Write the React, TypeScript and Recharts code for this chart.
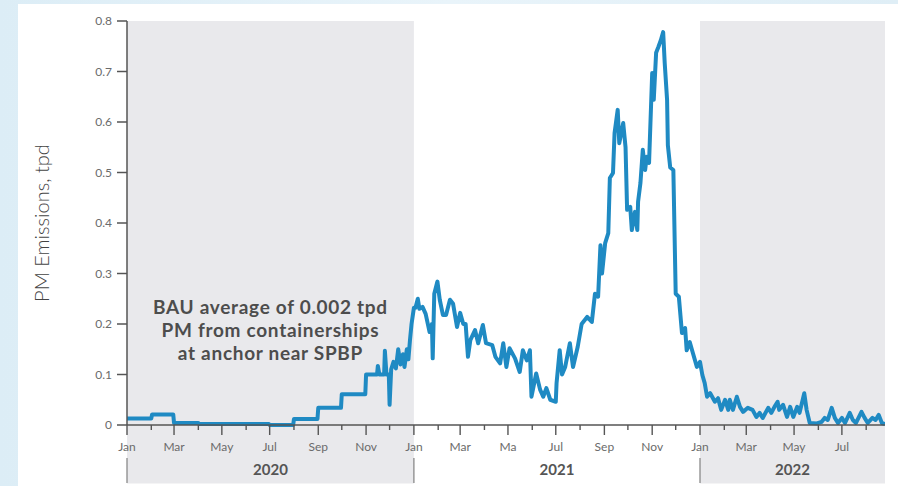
import React from "react";
import { LineChart, Line, XAxis, YAxis, ReferenceArea, ReferenceDot } from "recharts";

// days since 1 Jan 2020, daily PM emissions (tpd)
const days = [
  0, 31, 32, 59, 60, 91, 92, 181, 182, 212, 213, 243, 244, 273, 274, 304, 305, 319, 320, 322, 328, 329, 331, 334,
  335, 337, 340, 343, 346, 349, 352, 354, 357, 359, 361, 363, 366, 368, 371, 373, 377, 381, 386, 389, 390, 392,
  396, 399, 403, 407, 412, 416, 421, 425, 429, 432, 435, 438, 444, 448, 454, 458, 466, 470, 476, 480, 484, 488,
  495, 501, 505, 510, 514, 516, 522, 527, 531, 535, 540, 547, 548, 552, 555, 559, 565, 569, 575, 580, 587, 593,
  597, 601, 604, 606, 610, 614, 616, 620, 622, 626, 628, 633, 636, 638, 642, 644, 648, 651, 652, 655, 658, 661,
  663, 666, 670, 672, 675, 678, 681, 684, 686, 689, 690, 693, 697, 699, 700, 704, 708, 712, 714, 718, 722, 727,
  731, 734, 737, 740, 744, 750, 754, 758, 763, 767, 769, 773, 778, 782, 786, 792, 798, 803, 807, 811, 818, 822,
  826, 830, 832, 837, 842, 846, 850, 855, 858, 864, 867, 871, 880, 886, 890, 894, 899, 903, 907, 912, 916, 922,
  926, 930, 937, 941, 945, 951, 955, 959, 963, 967,
];
const pm = [
  0.013, 0.013, 0.021, 0.021, 0.004, 0.004, 0.002, 0.002, 0.0, 0.0, 0.012, 0.012, 0.034, 0.034, 0.061, 0.061, 0.1,
  0.1, 0.117, 0.1, 0.1, 0.147, 0.1, 0.1, 0.04, 0.11, 0.125, 0.112, 0.15, 0.12, 0.14, 0.115, 0.15, 0.13, 0.168, 0.2,
  0.232, 0.232, 0.25, 0.23, 0.234, 0.22, 0.184, 0.2, 0.132, 0.26, 0.284, 0.248, 0.218, 0.218, 0.248, 0.24, 0.194,
  0.222, 0.2, 0.2, 0.135, 0.168, 0.188, 0.162, 0.198, 0.162, 0.158, 0.135, 0.122, 0.162, 0.115, 0.152, 0.132, 0.105,
  0.148, 0.128, 0.148, 0.056, 0.102, 0.07, 0.056, 0.073, 0.05, 0.046, 0.083, 0.148, 0.1, 0.115, 0.162, 0.115, 0.155,
  0.2, 0.214, 0.204, 0.26, 0.254, 0.356, 0.3, 0.36, 0.38, 0.489, 0.499, 0.578, 0.624, 0.558, 0.598, 0.55, 0.426,
  0.432, 0.386, 0.422, 0.386, 0.442, 0.479, 0.545, 0.505, 0.531, 0.519, 0.697, 0.644, 0.737, 0.749, 0.762, 0.778,
  0.716, 0.644, 0.554, 0.51, 0.505, 0.34, 0.26, 0.254, 0.182, 0.192, 0.148, 0.164, 0.142, 0.115, 0.125, 0.099,
  0.083, 0.056, 0.063, 0.046, 0.053, 0.03, 0.05, 0.03, 0.05, 0.03, 0.056, 0.036, 0.026, 0.034, 0.03, 0.016, 0.024,
  0.014, 0.034, 0.024, 0.036, 0.046, 0.03, 0.04, 0.016, 0.036, 0.016, 0.036, 0.024, 0.063, 0.03, 0.004, 0.003,
  0.006, 0.014, 0.01, 0.034, 0.014, 0.004, 0.014, 0.004, 0.024, 0.01, 0.004, 0.026, 0.014, 0.004, 0.014, 0.01,
  0.02, 0.004, 0.002,
];

// first day of every month, Jan 2020 - Aug 2022
const monthDays = [
  0, 31, 60, 91, 121, 152, 182, 213, 244, 274, 305, 335,
  366, 397, 425, 456, 486, 517, 547, 578, 609, 639, 670, 700,
  731, 762, 790, 821, 851, 882, 912, 943,
];
const monthLabels = [
  "Jan", "", "Mar", "", "May", "", "Jul", "", "Sep", "", "Nov", "",
  "Jan", "", "Mar", "", "Ma", "", "Jul", "", "Sep", "", "Nov", "",
  "Jan", "", "Mar", "", "May", "", "Jul", "",
];
const years = ["2020", "2021", "2022"];
const yearStart = [0, 366, 731];
const yearEnd = [366, 731, 967];
const yTicks = [0, 0.1, 0.2, 0.3, 0.4, 0.5, 0.6, 0.7, 0.8];
const note = ["BAU average of 0.002 tpd", "PM from containerships", "at anchor near SPBP"];

const rows = days.map((d, i) => ({ day: d, pm: pm[i] }));

const FONT = "Lato, 'Open Sans', sans-serif";
const AXIS = "#555";

function MonthTick(props: any) {
  const { x, y, payload } = props;
  const i = monthDays.indexOf(payload.value);
  const label = monthLabels[i] || "";
  const major = i % 2 === 0;
  const isJan = i % 12 === 0;
  return (
    <g>
      <line x1={x} x2={x} y1={y} y2={y + (major ? 10 : 5)} stroke={AXIS} strokeWidth={1.4} />
      {label && (
        <text x={x} y={y + 26} textAnchor="middle" fontSize={12} fill="#6b6b6b" fontFamily={FONT}>
          {label}
        </text>
      )}
      {isJan && <line x1={x} x2={x} y1={y + 33} y2={y + 58} stroke="#8a8a8a" strokeWidth={1.3} />}
    </g>
  );
}

function NoteLabel(props: any) {
  const { viewBox } = props;
  const cx = viewBox.x + viewBox.width / 2;
  const cy = viewBox.y + viewBox.height / 2;
  return (
    <text
      x={cx}
      y={cy}
      textAnchor="middle"
      fontSize={19}
      fontWeight={700}
      letterSpacing={0.7}
      fill="#4d4d4d"
      fontFamily={FONT}
    >
      {note.map((t, i) => (
        <tspan key={i} x={cx} y={cy + (i - 1) * 23} dominantBaseline="central">
          {t}
        </tspan>
      ))}
    </text>
  );
}

export default function App() {
  return (
    <div
      style={{
        position: "absolute",
        left: 0,
        top: 0,
        width: 898,
        height: 486,
        background: "linear-gradient(90deg, #dcedf6 0%, #e9f4fa 50%, #dfeef6 100%)",
        overflow: "hidden",
      }}
    >
      <div style={{ position: "absolute", left: 18, top: 4, width: 880, height: 482, background: "#fff" }} />
      <div style={{ position: "absolute", left: 0, top: 0 }}>
        <LineChart width={898} height={486} data={rows} margin={{ top: 21, right: 13, bottom: 31, left: 0 }}>
          {years.map((yr, i) => (
            <ReferenceArea
              key={yr}
              x1={yearStart[i]}
              x2={yearEnd[i]}
              y1={-0.116}
              y2={0.8}
              ifOverflow="visible"
              fill={i === 1 ? "#fff" : "#e9e9ec"}
              fillOpacity={i === 1 ? 0 : 1}
              stroke="none"
              label={{
                value: yr,
                position: "insideBottom",
                offset: 9,
                fontSize: 15,
                fontWeight: 700,
                fill: "#555",
                fontFamily: FONT,
              }}
            />
          ))}
          <XAxis
            dataKey="day"
            type="number"
            domain={[0, 967]}
            allowDataOverflow
            ticks={monthDays}
            interval={0}
            height={30}
            tickSize={0}
            tickMargin={0}
            tickLine={false}
            tick={<MonthTick />}
            axisLine={{ stroke: AXIS, strokeWidth: 1.5 }}
          />
          <YAxis
            type="number"
            domain={[0, 0.8]}
            ticks={yTicks}
            width={127}
            tickSize={10}
            tickMargin={5}
            tickLine={{ stroke: AXIS, strokeWidth: 1.5 }}
            axisLine={{ stroke: AXIS, strokeWidth: 1.5 }}
            tickFormatter={(v: number) => (v === 0 ? "0" : v.toFixed(1))}
            tick={{ fontSize: 12, fill: "#6b6b6b", fontFamily: FONT }}
            label={{
              value: "PM Emissions, tpd",
              angle: -90,
              position: "center",
              dx: -22,
              fontSize: 20,
              fontWeight: 300,
              fill: "#444",
              fontFamily: FONT,
            }}
          />
          <ReferenceDot x={183} y={0.19} r={1} fill="none" stroke="none" label={{ content: <NoteLabel /> }} />
          <Line
            dataKey="pm"
            type="linear"
            stroke="#1f8ac3"
            strokeWidth={4}
            strokeLinejoin="round"
            dot={false}
            isAnimationActive={false}
          />
        </LineChart>
      </div>
    </div>
  );
}
